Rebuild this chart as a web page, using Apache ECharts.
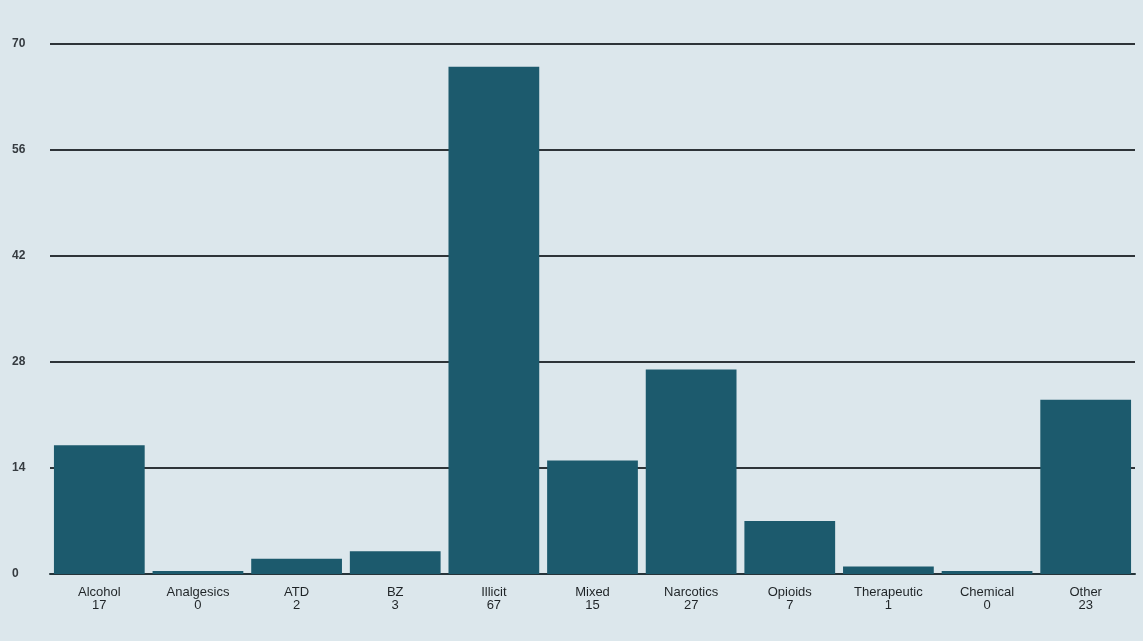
<!DOCTYPE html>
<html>
<head>
<meta charset="utf-8">
<script src="https://cdn.jsdelivr.net/npm/echarts@6/dist/echarts.min.js"></script>
<style>
  html, body { margin: 0; padding: 0; background: #dce7ec; }
  #chart { width: 1143px; height: 641px; }
</style>
</head>
<body>
<div id="chart"></div>
<script>
var categories = ['Alcohol', 'Analgesics', 'ATD', 'BZ', 'Illicit', 'Mixed', 'Narcotics', 'Opioids', 'Therapeutic', 'Chemical', 'Other'];
var counts = [17, 0, 2, 3, 67, 15, 27, 7, 1, 0, 23];
var yTicks = [0, 14, 28, 42, 56, 70];

var chart = echarts.init(document.getElementById('chart'));

var option = {
  backgroundColor: '#dce7ec',
  grid: {
    left: 50,
    right: 8,
    top: 44,
    bottom: 67
  },
  xAxis: {
    type: 'category',
    data: categories,
    axisLine: { show: true, lineStyle: { color: '#25343a', width: 2 } },
    axisTick: { show: false },
    axisLabel: {
      interval: 0,
      margin: 12,
      color: '#1f2427',
      fontFamily: 'Liberation Sans, Arial, sans-serif',
      fontSize: 13,
      lineHeight: 13,
      formatter: function (v, i) {
        return v + '\n' + counts[i];
      }
    }
  },
  yAxis: {
    type: 'value',
    min: yTicks[0],
    max: yTicks[yTicks.length - 1],
    interval: 14,
    axisLine: { show: false },
    axisTick: { show: false },
    axisLabel: {
      align: 'left',
      margin: 38,
      color: '#353b40',
      fontFamily: 'Liberation Sans, Arial, sans-serif',
      fontSize: 12,
      fontWeight: 'bold'
    },
    splitLine: { lineStyle: { color: '#2e3438', width: 2 } }
  },
  series: [{
    name: 'count',
    type: 'bar',
    data: counts,
    barCategoryGap: '8%',
    barMinHeight: 3,
    itemStyle: { color: '#1c5a6d' },
    z: 3
  }]
};

chart.setOption(option);
</script>
</body>
</html>
